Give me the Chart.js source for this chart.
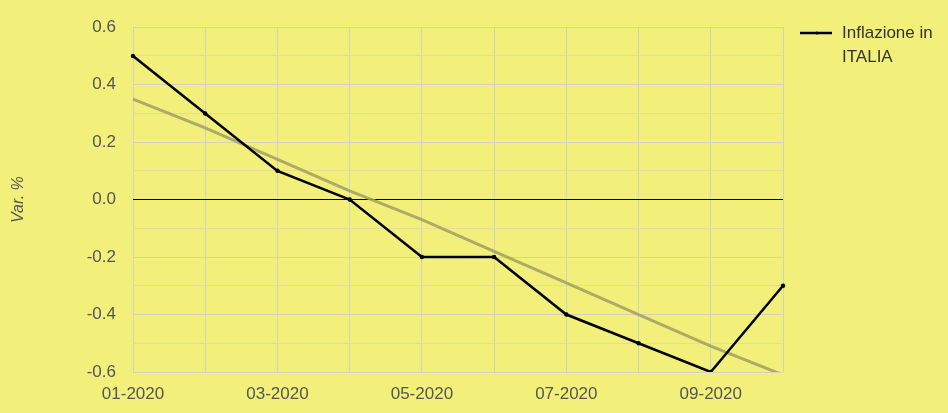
<!DOCTYPE html>
<html><head><meta charset="utf-8">
<script src="https://cdn.jsdelivr.net/npm/chart.js@4/dist/chart.umd.min.js"></script>
<style>html,body{margin:0;padding:0;background:#F2F07B;}#wrap{width:948px;height:413px;}</style>
</head><body><div id="wrap"><canvas id="c" width="948" height="413"></canvas></div>
<script>
const categories = ["01-2020","02-2020","03-2020","04-2020","05-2020","06-2020","07-2020","08-2020","09-2020","10-2020"];
const inflation = [0.5, 0.3, 0.1, 0.0, -0.2, -0.2, -0.4, -0.5, -0.6, -0.3];
const trend = [0.35, 0.25, 0.14, 0.03, -0.07, -0.18, -0.29, -0.40, -0.51, -0.61];
const seriesName = ["Inflazione in", "ITALIA"];
const yTitle = "Var. %";
const FONT = '"Liberation Sans", Arial, sans-serif';

const bg = { id:'bg', beforeDraw(c){ const x=c.ctx; x.save(); x.fillStyle='#F2F07B'; x.fillRect(0,0,c.width,c.height); x.restore(); } };
const legendPlugin = { id:'leg', afterDraw(c){
  const x=c.ctx; x.save();
  const ly=33;
  x.strokeStyle='#000'; x.lineWidth=2.5; x.beginPath(); x.moveTo(800,ly); x.lineTo(832,ly); x.stroke();
  x.fillStyle='#000'; x.beginPath(); x.arc(817,ly,1.5,0,Math.PI*2); x.fill();
  x.fillStyle='#333'; x.font='17px ' + FONT; x.textBaseline='middle'; x.textAlign='left';
  seriesName.forEach((t,i)=>x.fillText(t,842,ly+i*24));
  x.restore();
}};

new Chart(document.getElementById('c'), {
  type:'line',
  data:{ labels:categories, datasets:[
    { label:seriesName.join(' '), data:inflation, borderColor:'#000', backgroundColor:'#000', borderWidth:2.5, pointRadius:1, pointHoverRadius:1, tension:0, order:1 },
    { label:'Trend', data:trend, borderColor:'rgba(160,160,100,0.85)', borderWidth:3, pointRadius:0, tension:0, order:2 }
  ]},
  options:{
    responsive:false, animation:false,
    layout:{ padding:{ top:26, right:165, left:0, bottom:0 } },
    plugins:{ legend:{display:false}, tooltip:{enabled:false} },
    scales:{
      x:{ offset:false,
        grid:{ color:'#D2D2C0', lineWidth:1, drawTicks:false },
        border:{ display:false },
        ticks:{ autoSkip:false, maxRotation:0, padding:12, color:'#555', font:{ size:17, family:FONT },
          callback:(v,i)=> i%2===0 ? categories[i] : '' },
        afterFit(s){ s.height = 41; }
      },
      y:{ min:-0.6, max:0.6,
        grid:{ drawTicks:false, lineWidth:1,
          color:(ctx)=>{ const v=Math.round(ctx.tick.value*10); if(v===0) return '#000'; return (Math.abs(v)%2===0)?'#D2D2C0':'#E2E08E'; } },
        border:{ display:false },
        ticks:{ stepSize:0.1, padding:17, color:'#555', font:{ size:17, family:FONT },
          callback:(v)=>{ const r=Math.round(v*10); return (Math.abs(r)%2===0)? (r/10).toFixed(1) : ''; } },
        title:{ display:true, text:yTitle, color:'#555', padding:{top:9,bottom:0}, font:{ size:16, style:'italic', family:FONT } },
        afterFit(s){ s.width = 133; }
      }
    }
  },
  plugins:[bg, legendPlugin]
});
</script></body></html>
